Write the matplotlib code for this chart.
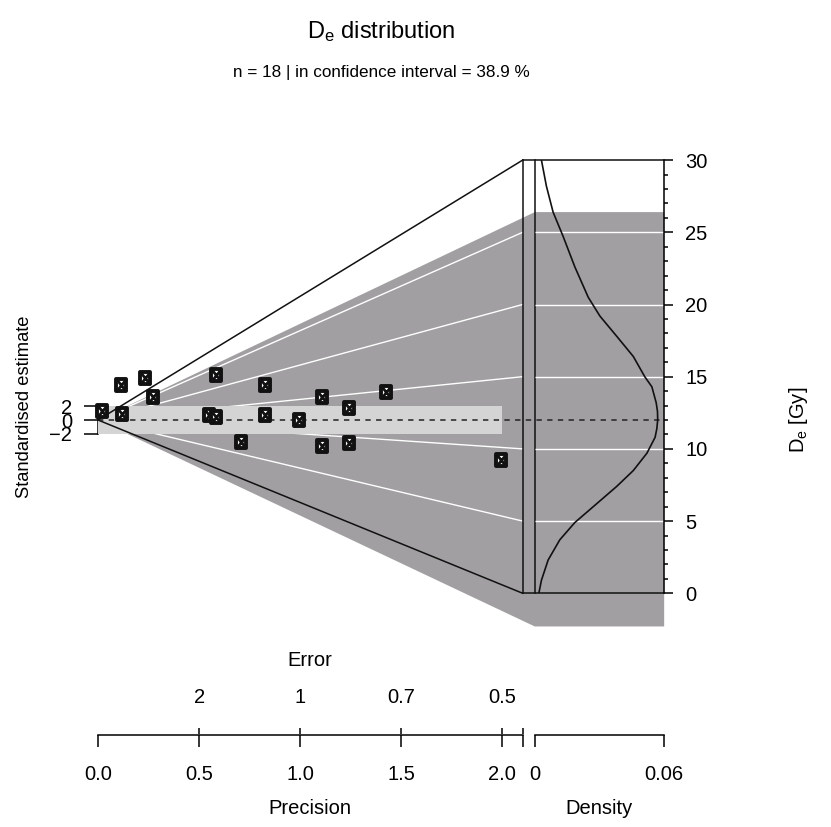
import matplotlib
matplotlib.use("Agg")
import matplotlib.pyplot as plt
from matplotlib.path import Path

plt.rcParams['font.family'] = ['Liberation Sans', 'DejaVu Sans']
plt.rcParams['mathtext.fontset'] = 'custom'
plt.rcParams['mathtext.rm'] = 'Liberation Sans'
plt.rcParams['mathtext.it'] = 'Liberation Sans:italic'

# data
precision = [0.021, 0.112, 0.234, 0.117, 0.273, 0.584, 0.550, 0.584, 0.707,
             0.827, 0.827, 0.994, 1.106, 1.106, 1.243, 1.243, 1.423, 1.993]
std_estimate = [1.31, 5.05, 6.07, 0.87, 3.30, 6.55, 0.73, 0.39, -3.16,
                5.02, 0.73, 0.00, 3.30, -3.78, 1.79, -3.30, 4.07, -5.77]

de_central = 12.0
de_limits = [0, 30]
de_ticks = [0, 5, 10, 15, 20, 25, 30]
poly_de = [-2.3, 26.4]
band_sigma = 2
band_precision = 2.0

density_de = [0, 0.9, 2.3, 3.7, 4.9, 6.2, 7.4, 8.5, 9.7, 10.8, 11.4, 12.0, 12.6,
              13.2, 14.3, 15.0, 16.4, 17.8, 19.2, 20.5, 22.6, 24.7, 26.4, 28.2, 30]
density_val = [0.0019, 0.0031, 0.0062, 0.0116, 0.0186, 0.0287, 0.0380, 0.0457,
               0.0520, 0.0558, 0.0566, 0.0570, 0.0569, 0.0563, 0.0543, 0.0510,
               0.0457, 0.0380, 0.0302, 0.0248, 0.0186, 0.0132, 0.0085, 0.0054,
               0.0031]

precision_ticks = [0.0, 0.5, 1.0, 1.5, 2.0]
density_ticks = [0, 0.06]

n_total = 18
in_ci = 38.9

# layout (pixels)
W, H = 831, 827
X0, KX = 98, 202.2     # pixel of precision 0, pixels per precision unit
Y0, KY = 420, 6.875    # pixel of std 0, pixels per std unit
x_end, x_panel, x_right = 2.1, 2.16, 2.8
y_lo, y_hi = -31, 38

fig = plt.figure(figsize=(W / 100, H / 100), dpi=100)


def px_axes(left, top, right, bottom):
    return fig.add_axes([left / W, 1 - bottom / H, (right - left) / W, (bottom - top) / H])


def ftext(x, y, s, **kw):
    fig.text(x / W, 1 - y / H, s, ha='center', va='center', **kw)


def to_std(de):
    return (de - de_central) * x_end


ax = px_axes(X0, Y0 - y_hi * KY, X0 + x_right * KX, Y0 - y_lo * KY)
ax.set_xlim(0, x_right)
ax.set_ylim(y_lo, y_hi)
ax.patch.set_alpha(0)

dark = '#a19fa1'
light = '#d4d4d4'

# grey polygon of data range
ys_hi, ys_lo = to_std(poly_de[1]), to_std(poly_de[0])
ax.fill([0, x_panel, x_right, x_right, x_panel], [0, ys_hi, ys_hi, ys_lo, ys_lo],
        color=dark, lw=0, zorder=1, clip_on=False)

# radial grid lines
for d in de_ticks[1:-1]:
    ax.plot([0, x_end], [0, to_std(d)], color='white', lw=1, zorder=2)

# 2-sigma band
ax.fill_between([0, band_precision], -band_sigma, band_sigma, color=light, lw=0, zorder=3)

# central value
ax.plot([0, x_right], [0, 0], color='#222222', lw=1.1, dashes=(3.5, 3.5), zorder=4)

# outer radial lines and panel frame
s_top, s_bot = to_std(de_limits[1]), to_std(de_limits[0])
for s in (s_top, s_bot):
    ax.plot([0, x_end], [0, s], color='#111111', lw=1.1, zorder=5)
    ax.plot([x_end, x_right], [s, s], color='#111111', lw=1.1, zorder=5)
for xv in (x_end, x_panel):
    ax.plot([xv, xv], [s_bot, s_top], color='#111111', lw=1.1, zorder=5)

# points: square with cross
sq = Path([(-0.8, -1), (0.8, -1), (0.8, 1), (-0.8, 1), (-0.8, -1)],
          [Path.MOVETO, Path.LINETO, Path.LINETO, Path.LINETO, Path.CLOSEPOLY])
cross = Path([(-0.8, -1), (0.8, 1), (-0.8, 1), (0.8, -1)],
             [Path.MOVETO, Path.LINETO, Path.MOVETO, Path.LINETO])
ax.scatter(precision, std_estimate, marker=sq, s=85, facecolor='white',
           edgecolor='#111111', linewidths=2.8, zorder=6, clip_on=False)
ax.scatter(precision, std_estimate, marker=cross, s=85, color='#111111',
           linewidths=2.0, zorder=7, clip_on=False)

# standardised estimate axis
for sp in ('top', 'right', 'bottom'):
    ax.spines[sp].set_visible(False)
ax.spines['left'].set_bounds(-band_sigma, band_sigma)
ax.spines['left'].set_linewidth(1.1)
ax.set_yticks([-2, 0, 2])
ax.set_yticklabels(['\u22122', '0', '2'])
ax.tick_params(axis='y', length=9.8, width=1.1, pad=9, labelsize=14.5)
ax.set_xticks([])

# density panel
axd = px_axes(X0 + x_panel * KX, Y0 - s_top * KY, X0 + x_right * KX, Y0 - s_bot * KY)
axd.patch.set_alpha(0)
axd.set_xlim(0, 0.06)
axd.set_ylim(de_limits)
axd.hlines(de_ticks[1:-1], 0, 0.06, color='white', lw=1, zorder=1)
axd.plot(density_val, density_de, color='#111111', lw=1.2, zorder=3)
for sp in ('top', 'left', 'bottom'):
    axd.spines[sp].set_visible(False)
axd.spines['right'].set_linewidth(1.1)
axd.yaxis.tick_right()
axd.set_yticks(de_ticks)
axd.set_yticks(range(de_limits[0], de_limits[1] + 1), minor=True)
axd.tick_params(axis='y', which='major', length=6.3, width=1.1, pad=9, labelsize=14.5)
axd.tick_params(axis='y', which='minor', length=2.9, width=1.1)
axd.set_xticks([])

# precision / error axis
yb = 734
axb = px_axes(X0, yb - 0.5, X0 + x_right * KX, yb + 0.5)
axb.patch.set_alpha(0)
axb.set_xlim(0, x_right)
axb.set_yticks([])
for sp in ('top', 'left', 'right'):
    axb.spines[sp].set_visible(False)
axb.spines['bottom'].set_bounds(0, x_end)
axb.spines['bottom'].set_linewidth(1.1)
axb.set_xticks(precision_ticks + [x_end])
axb.set_xticklabels([f'{p:.1f}' for p in precision_ticks] + [''])
axb.tick_params(axis='x', length=8.6, width=1.1, pad=13, labelsize=14.5)

axe = axb.twiny()
axe.set_xlim(0, x_right)
for sp in axe.spines.values():
    sp.set_visible(False)
err_ticks = precision_ticks[1:]
axe.set_xticks(err_ticks + [x_end])
axe.set_xticklabels([f'{1 / p:.1g}' for p in err_ticks] + [''])
axe.tick_params(axis='x', length=4.3, width=1.1, pad=15, labelsize=14.5)

# density axis
axdb = px_axes(X0 + x_panel * KX, yb - 0.5, X0 + x_right * KX, yb + 0.5)
axdb.patch.set_alpha(0)
axdb.set_xlim(0, 0.06)
axdb.set_yticks([])
for sp in ('top', 'left', 'right'):
    axdb.spines[sp].set_visible(False)
axdb.spines['bottom'].set_linewidth(1.1)
axdb.set_xticks(density_ticks)
axdb.set_xticklabels(['0', '0.06'])
axdb.tick_params(axis='x', length=8.6, width=1.1, pad=13, labelsize=14.5)

# texts
ftext(381, 32, r'D$_{\mathrm{e}}$ distribution', fontsize=17)
ftext(381, 72, f'n = {n_total} | in confidence interval = {in_ci} %', fontsize=12.3)
ftext(25, 407, 'Standardised estimate', fontsize=13.2, rotation=90)
ftext(798, 420, r'D$_{\mathrm{e}}$ [Gy]', fontsize=14.5, rotation=90)
ftext(310, 661, 'Error', fontsize=14.5)
ftext(310, 808, 'Precision', fontsize=14.5)
ftext(599, 808, 'Density', fontsize=14.5)

fig.savefig('out.png', dpi=100, facecolor='white')
